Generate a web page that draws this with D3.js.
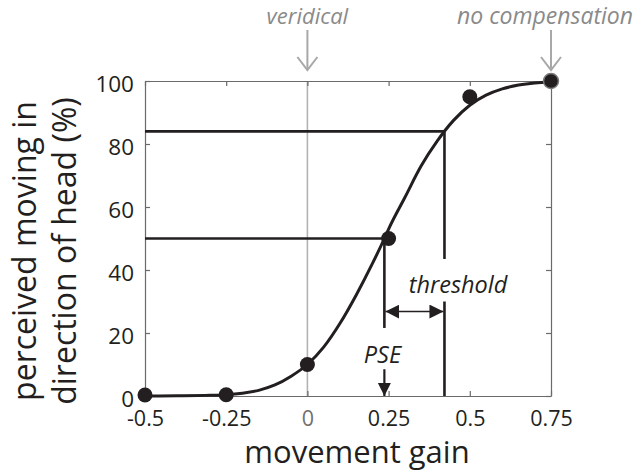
<!DOCTYPE html>
<html><head><meta charset="utf-8">
<script src="https://cdn.jsdelivr.net/npm/d3@7"></script>
<style>body{margin:0;background:#fff}svg{display:block}text{font-family:"Open Sans",sans-serif}</style>
</head><body><svg id="c" width="638" height="473"></svg>
<script>
// data
const gains = [-0.5, -0.25, 0, 0.25, 0.5, 0.75];
const percent = [0.3, 0.4, 10, 50, 95, 100];
const curveGain = [-0.5,-0.4,-0.3,-0.25,-0.2,-0.15,-0.1,-0.05,0,0.05,0.1,0.15,0.2,0.237,0.25,0.3,0.35,0.4,0.45,0.5,0.55,0.6,0.65,0.7,0.75];
const curvePct  = [0,0.05,0.2,0.4,0.9,1.8,3.5,6.3,10,15.5,23,32,42,50,53,63,73,81,87.5,92.3,95.5,97.5,98.7,99.4,99.7];
const xTicks = [-0.5, -0.25, 0, 0.25, 0.5, 0.75];
const xTickLabels = ["-0.5", "-0.25", "0", "0.25", "0.5", "0.75"];
const yTicks = [0, 20, 40, 60, 80, 100];
const pse = 0.237, pseLevel = 50;
const thr = 0.422, thrLevel = 84;
const markers = [{gain: 0, label: "veridical"}, {gain: 0.75, label: "no compensation"}];

const svg = d3.select("#c");
const L = 145, R = 551, T = 81, B = 396;
const x = d3.scaleLinear().domain([-0.5, 0.75]).range([L, R]);
const y = d3.scaleLinear().domain([0, 100]).range([B, T]);
const dark = "#231f20", gray = "#a8a8a8", boxc = "#6a6a6a";

svg.append("defs").html(`
 <marker id="ah" viewBox="0 0 10 10" refX="10" refY="5" markerWidth="14" markerHeight="14" markerUnits="userSpaceOnUse" orient="auto-start-reverse"><path d="M0,0 L10,5 L0,10 z" fill="${dark}"/></marker>
 <marker id="ad" viewBox="0 0 10 10" refX="10" refY="5" markerWidth="13" markerHeight="14" markerUnits="userSpaceOnUse" orient="auto"><path d="M0,0 L10,5 L0,10 z" fill="${dark}"/></marker>
`);

// veridical gray line
svg.append("line").attr("x1", x(0)).attr("x2", x(0)).attr("y1", T).attr("y2", B)
  .attr("stroke", "#b3b3b3").attr("stroke-width", 1.6);

// axes (box with inner ticks)
const ax = [
  d3.axisBottom(x).tickValues(xTicks).tickSize(-5).tickFormat(""),
  d3.axisTop(x).tickValues(xTicks).tickSize(-5).tickFormat(""),
  d3.axisLeft(y).tickValues(yTicks).tickSize(-5).tickFormat(""),
  d3.axisRight(y).tickValues(yTicks).tickSize(-5).tickFormat("")
];
const tr = [`translate(0,${B})`, `translate(0,${T})`, `translate(${L},0)`, `translate(${R},0)`];
ax.forEach((a, i) => {
  const g = svg.append("g").attr("transform", tr[i]).call(a.tickSizeOuter(0));
  g.selectAll("path,line").attr("stroke", boxc).attr("stroke-width", 1.2);
});

// tick labels
svg.append("g").attr("transform", `translate(0,${B})`)
  .call(d3.axisBottom(x).tickValues(xTicks).tickSize(0).tickPadding(15).tickFormat((d, i) => xTickLabels[i]))
  .call(g => g.select(".domain").remove())
  .selectAll("text").attr("font-size", 21.5).attr("font-family", "Open Sans")
  .attr("fill", d => d === 0 ? "#707070" : dark);
svg.append("g").attr("transform", `translate(${L - 11},0)`)
  .call(d3.axisLeft(y).tickValues(yTicks).tickSize(0).tickPadding(0))
  .call(g => g.select(".domain").remove())
  .selectAll("text").attr("font-size", 22.5).attr("fill", dark).attr("dy", "0.45em").attr("font-family", "Open Sans");

// reference lines
const ln = (x1, y1, x2, y2, w) => svg.append("line").attr("x1", x1).attr("y1", y1).attr("x2", x2).attr("y2", y2)
  .attr("stroke", dark).attr("stroke-width", w || 2.6);
ln(L, y(thrLevel), x(thr), y(thrLevel));
ln(L, y(pseLevel), x(pse), y(pseLevel));
ln(x(pse), y(pseLevel), x(pse), y(21.6));
ln(x(thr), y(thrLevel), x(thr), y(43.5));
ln(x(thr), y(30), x(thr), B);
// double arrow
ln(x(pse) + 1, y(26.8), x(thr) - 1, y(26.8), 1.5).attr("marker-start", "url(#ah)").attr("marker-end", "url(#ah)");
// PSE arrow
ln(x(pse), y(8.5), x(pse), B, 2.2).attr("marker-end", "url(#ad)");

svg.append("text").attr("x", x(pse) - 2).attr("y", 363).attr("text-anchor", "middle")
  .attr("font-size", 23.5).attr("font-style", "italic").attr("fill", dark).text("PSE");
svg.append("text").attr("x", 458).attr("y", 293).attr("text-anchor", "middle")
  .attr("font-size", 23.5).attr("font-style", "italic").attr("fill", dark).text("threshold");

// fitted curve
const line = d3.line().x((d, i) => x(curveGain[i])).y(d => y(d)).curve(d3.curveMonotoneX);
svg.append("path").attr("d", line(curvePct)).attr("fill", "none").attr("stroke", dark).attr("stroke-width", 3);

// data points
svg.selectAll("circle.pt").data(gains).join("circle").attr("class", "pt")
  .attr("cx", d => x(d)).attr("cy", (d, i) => y(percent[i])).attr("r", 7.5)
  .attr("fill", dark)
  .attr("stroke", (d, i) => i === gains.length - 1 ? "#7a7a7a" : "none").attr("stroke-width", 1.5);

// top gray markers
const mk = svg.selectAll("g.mk").data(markers).join("g").attr("class", "mk");
mk.append("line").attr("x1", d => x(d.gain)).attr("x2", d => x(d.gain)).attr("y1", 30).attr("y2", 70)
  .attr("stroke", gray).attr("stroke-width", 2);
mk.append("path").attr("d", d => `M${x(d.gain) - 10},${57} L${x(d.gain)},${70} L${x(d.gain) + 10},${57}`)
  .attr("fill", "none").attr("stroke", gray).attr("stroke-width", 2);
mk.append("text").attr("x", (d, i) => i === 0 ? x(d.gain) : 545).attr("y", 24).attr("text-anchor", "middle")
  .attr("font-size", (d, i) => i === 0 ? 22 : 23).attr("font-style", "italic").attr("fill", "#8a8a8a").text(d => d.label);

// axis titles
svg.append("text").attr("x", 357).attr("y", 463).attr("text-anchor", "middle")
  .attr("font-size", 31).attr("fill", dark).text("movement gain");
const yt = svg.append("text").attr("transform", "translate(0,251) rotate(-90)").attr("text-anchor", "middle")
  .attr("font-size", 32).attr("fill", dark);
yt.append("tspan").attr("x", 0).attr("y", 36).text("perceived moving in");
yt.append("tspan").attr("x", 0).attr("y", 76).text("direction of head (%)");
</script></body></html>
